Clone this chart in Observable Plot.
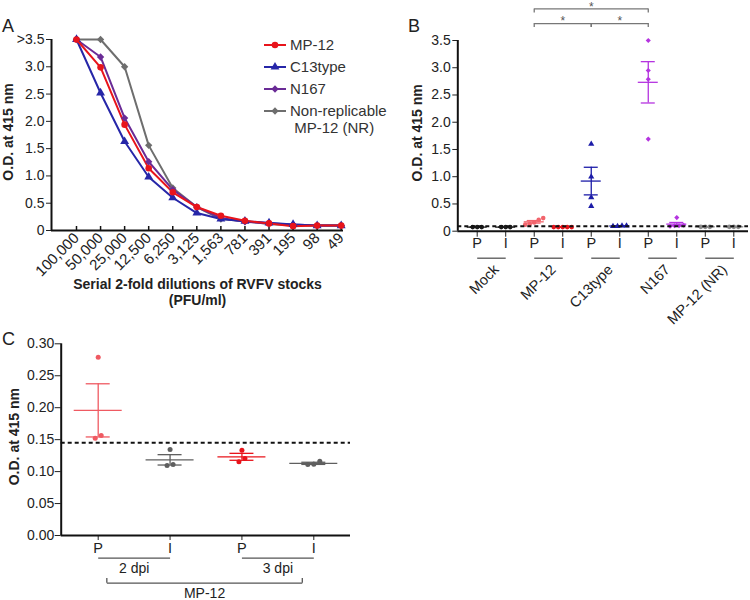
<!DOCTYPE html>
<html><head><meta charset="utf-8">
<script src="https://cdn.jsdelivr.net/npm/d3@7"></script>
<script src="https://cdn.jsdelivr.net/npm/@observablehq/plot@0.6"></script>
<style>
body{margin:0;background:#fff;font-family:"Liberation Sans",Arial,sans-serif;}
#fig{position:relative;width:750px;height:600px;overflow:hidden;background:#fff}
.panel{position:absolute}
.panel svg{max-width:none;overflow:visible}
.letter{position:absolute;font-size:18px;line-height:18px;color:#222}
#legend{position:absolute;left:263px;top:36px;font-size:15px;color:#333}
.lrow{display:flex;align-items:flex-start;margin-bottom:5px}
.lrow svg{margin-top:3px;margin-right:3px;flex:none}
.lrow span{line-height:17px;white-space:pre}
</style></head><body><div id="fig"></div>
<script>
// ---------- Panel A data ----------
const dilutions = ["100,000","50,000","25,000","12,500","6,250","3,125","1,563","781","391","195","98","49"];
const seriesA = ["MP-12","C13type","N167","Non-replicable\n MP-12 (NR)"];
const odMP12 = [3.5,2.99,1.94,1.14,0.70,0.43,0.27,0.18,0.13,0.08,0.09,0.09];
const odC13  = [3.5,2.52,1.63,0.98,0.60,0.32,0.21,0.17,0.14,0.11,0.09,0.09];
const odN167 = [3.5,3.18,2.06,1.26,0.75,0.43,0.23,0.16,0.13,0.11,0.09,0.09];
const odNR   = [3.5,3.5,3.0,1.56,0.78,0.43,0.21,0.17,0.12,0.09,0.09,0.09];
const yTicksA = [0,0.5,1,1.5,2,2.5,3,3.5];

// ---------- Panel B data ----------
const groupsB = ["Mock","MP-12","C13type","N167","MP-12 (NR)"];
const sampleB = ["P","I"];
const mockP = [0.075,0.075,0.075];
const mockI = [0.075,0.075,0.075];
const mp12P = [0.24,0.21,0.16,0.13,0.12];
const mp12I = [0.075,0.075,0.075,0.075,0.075];
const c13P  = [1.60,1.00,0.62,0.46];
const c13I  = [0.10,0.09,0.10,0.09];
const n167P = [3.50,2.95,2.79,1.69];
const n167I = [0.25,0.11,0.10,0.09,0.10];
const nrP   = [0.08,0.08,0.08];
const nrI   = [0.08,0.08,0.08];
const cutoffB = 0.093;
const sigFrom = [2,4,2], sigTo = [4,6,6], sigLevel = [3.81,3.81,4.08], sigText = ["*","*","*"];
const yTicksB = [0,0.5,1,1.5,2,2.5,3,3.5];

// ---------- Panel C data ----------
const sampleC = ["P","I","P","I"];
const dpiLabels = ["2 dpi","3 dpi"];
const virusC = "MP-12";
const c2P = [0.279,0.1565,0.152];
const c2I = [0.1346,0.1096,0.111];
const c3P = [0.1336,0.1205,0.1153];
const c3I = [0.1163,0.1115,0.111];
const cutoffC = 0.145;
const yTicksC = [0,0.05,0.10,0.15,0.20,0.25,0.30];
const yTitle = "O.D. at 415 nm";
const xTitleA = "Serial 2-fold dilutions of RVFV stocks\n(PFU/ml)";

// ---------- styles ----------
const colorsA = ["#e8141b","#2626a8","#6a2b96","#6e6e6e"];
const symbolsA = ["circle","triangle","diamond2","diamond2"];
const colorsB = [["#1a1a1a","#1a1a1a"],["#f2646c","#e8141b"],["#1c1ca8","#1c1ca8"],["#b534e0","#b534e0"],["#8c8c8c","#8c8c8c"]];
const symbolsB = ["circle","circle","triangle","diamond2","circle"];
const colorsC = ["#ef5a62","#5f5f5f","#e8141b","#5f5f5f"];
const FONT = "'Liberation Sans', Arial, sans-serif";
const W = 375;

function lin(p0, p1, i0, i1, left, right) {
  const k = (p1 - p0) / (i1 - i0);
  return {domain: [i0 - (p0 - left) / k, i1 + (right - p1) / k], k};
}
function spread(vals, thr, gap) {
  const order = vals.map((v, i) => i).sort((a, b) => vals[a] - vals[b]);
  const off = new Array(vals.length).fill(0);
  let cl = [order[0]];
  const flush = () => { const n = cl.length; cl.forEach((j, t) => off[j] = (t - (n - 1) / 2) * gap); };
  for (let t = 1; t < order.length; t++) {
    if (vals[order[t]] - vals[order[t - 1]] < thr) cl.push(order[t]);
    else { flush(); cl = [order[t]]; }
  }
  flush();
  return off;
}
const sem = a => a.length > 1 ? (d3.deviation(a) || 0) / Math.sqrt(a.length) : 0;
const fig = d3.select("#fig");
function place(plot, left, top) {
  fig.append("div").attr("class", "panel").style("left", left + "px").style("top", top + "px")
    .style("width", W + "px").node().appendChild(plot);
}
const baseStyle = {fontFamily: FONT, fontSize: "14px", color: "#111", background: "transparent"};
const titleOpts = {text: d => d, frameAnchor: "left", textAnchor: "middle", rotate: -90, dy: -3, fontWeight: "bold", fontSize: 14, fill: "#222"};

// ================= Panel A =================
const A = {left: 51, right: 343, top: 39, bottom: 230, h: 300};
const xa = lin(76, 340.7, 0, 11, A.left, A.right);
const kyA = (A.bottom - A.top) / 3.5;
const valsA = [odMP12, odC13, odN167, odNR];
const rowsA = [3, 2, 1, 0].flatMap(k => valsA[k].map((v, i) => ({s: seriesA[k], i, v})));
const plotA = Plot.plot({
  width: W, height: A.h, marginLeft: A.left, marginRight: W - A.right, marginTop: A.top, marginBottom: A.h - A.bottom,
  x: {type: "linear", domain: xa.domain},
  y: {domain: [0, 3.5]},
  color: {domain: seriesA, range: colorsA},
  symbol: {domain: seriesA, range: symbolsA},
  style: baseStyle,
  marks: [
    Plot.axisY({ticks: yTicksA, tickFormat: d => d === 0 ? "0" : d === 3.5 ? ">3.5" : d.toFixed(1), tickSize: 5, tickPadding: 2, fontSize: 14, label: null, color: "#222"}),
    Plot.axisX({ticks: d3.range(dilutions.length), tickFormat: i => dilutions[i], tickRotate: -45, tickSize: 0, tickPadding: 5, fontSize: 15, label: null, color: "#222"}),
    Plot.ruleX(d3.range(dilutions.length), {x: d => d, y1: () => 0, y2: () => 4 / kyA, strokeWidth: 1.5, stroke: "#111"}),
    Plot.line(rowsA, {x: "i", y: "v", z: "s", stroke: "s", strokeWidth: 2}),
    Plot.dot(rowsA, {x: "i", y: "v", symbol: "s", fill: "s", r: 3.3}),
    Plot.ruleY([0], {strokeWidth: 2, stroke: "#111"}),
    Plot.ruleX([xa.domain[0]], {strokeWidth: 2, stroke: "#111"}),
    Plot.text([yTitle], {...titleOpts, dx: -43}),
    Plot.text([xTitleA], {text: d => d, frameAnchor: "bottom", dy: 61, lineAnchor: "middle", lineHeight: 1.15, fontWeight: "bold", fontSize: 14, fill: "#222"})
  ]
});
place(plotA, 0, 0);

// Legend for A
const symTypes = {circle: d3.symbolCircle, triangle: d3.symbolTriangle, diamond2: d3.symbolDiamond2};
const legend = fig.append("div").attr("id", "legend");
seriesA.forEach((s, k) => {
  const row = legend.append("div").attr("class", "lrow");
  const sv = row.append("svg").attr("width", 24).attr("height", 12);
  sv.append("line").attr("x1", 1).attr("x2", 23).attr("y1", 6).attr("y2", 6).attr("stroke", colorsA[k]).attr("stroke-width", 2);
  sv.append("path").attr("transform", "translate(12,6)").attr("d", d3.symbol(symTypes[symbolsA[k]], 34)()).attr("fill", colorsA[k]);
  row.append("span").text(s);
});

// ================= Panel B =================
const B = {left: 82.3, right: 373, top: 40, bottom: 230.7, h: 330};
const xb = lin(101.7, 358.3, 0, 9, B.left, B.right);
const kyB = (B.bottom - B.top) / 3.5;
const valsB = [[mockP, mockI], [mp12P, mp12I], [c13P, c13I], [n167P, n167I], [nrP, nrI]];
const ptsB = [], statB = [];
valsB.forEach((pair, g) => pair.forEach((vals, s) => {
  const idx = 2 * g + s, key = groupsB[g] + " " + sampleB[s];
  const off = spread(vals, 0.06, 4.5);
  vals.forEach((v, j) => ptsB.push({key, g, x: idx + off[j] / xb.k, v}));
  const m = d3.mean(vals), e = sem(vals);
  statB.push({key, g, idx, m, lo: m - e, hi: m + e});
}));
const keysB = statB.map(d => d.key);
const colB = statB.map(d => colorsB[d.g][d.idx % 2]);
const hwB = 10 / xb.k, cwB = 7 / xb.k;
const plotB = Plot.plot({
  width: W, height: B.h, marginLeft: B.left, marginRight: W - B.right, marginTop: B.top, marginBottom: B.h - B.bottom,
  x: {type: "linear", domain: xb.domain},
  y: {domain: [0, 3.5]},
  color: {domain: keysB, range: colB},
  style: baseStyle,
  marks: [
    Plot.axisY({ticks: yTicksB, tickFormat: d => d === 0 ? "0" : d.toFixed(1), tickSize: 5, tickPadding: 2, fontSize: 14, label: null, color: "#222"}),
    Plot.axisX({ticks: d3.range(10), tickFormat: i => sampleB[i % 2], tickSize: 6, tickPadding: 1, fontSize: 14.5, label: null, color: "#222"}),
    Plot.link(d3.range(groupsB.length), {x1: g => 2 * g, x2: g => 2 * g + 1, y1: () => 0, y2: () => 0, dy: 27, stroke: "#555", strokeWidth: 1.3}),
    Plot.text(groupsB, {text: d => d, x: (d, i) => 2 * i + 0.5, y: () => 0, rotate: -45, textAnchor: "end", dx: 5, dy: 36, fontSize: 14.5, fill: "#222"}),
    // error bars
    Plot.ruleX(statB, {x: "idx", y1: "lo", y2: "hi", stroke: "key", strokeWidth: 1.3}),
    Plot.ruleY(statB, {y: "m", x1: d => d.idx - hwB, x2: d => d.idx + hwB, stroke: "key", strokeWidth: 1.3}),
    Plot.ruleY(statB, {y: "lo", x1: d => d.idx - cwB, x2: d => d.idx + cwB, stroke: "key", strokeWidth: 1.3}),
    Plot.ruleY(statB, {y: "hi", x1: d => d.idx - cwB, x2: d => d.idx + cwB, stroke: "key", strokeWidth: 1.3}),
    Plot.dot(ptsB, {x: "x", y: "v", fill: "key", symbol: d => symbolsB[d.g], r: 2.3}),
    Plot.ruleY([cutoffB], {strokeDasharray: "4,3", strokeWidth: 2, stroke: "#111"}),
    Plot.ruleY([0], {strokeWidth: 2, stroke: "#111"}),
    Plot.ruleX([xb.domain[0]], {strokeWidth: 2, stroke: "#111"}),
    // significance brackets
    Plot.link(d3.range(sigFrom.length), {x1: i => sigFrom[i], x2: i => sigTo[i], y1: i => sigLevel[i], y2: i => sigLevel[i], stroke: "#777", strokeWidth: 1.3}),
    Plot.ruleX(d3.range(sigFrom.length).flatMap(i => [{x: sigFrom[i], y: sigLevel[i]}, {x: sigTo[i], y: sigLevel[i]}]), {x: "x", y1: "y", y2: d => d.y - 4 / kyB, stroke: "#777", strokeWidth: 1.3}),
    Plot.text(d3.range(sigFrom.length), {text: i => sigText[i], x: i => (sigFrom[i] + sigTo[i]) / 2, y: i => sigLevel[i], dy: -2, fontSize: 12, fill: "#555"}),
    Plot.text([yTitle], {...titleOpts, dx: -40})
  ]
});
place(plotB, 375, 0);

// ================= Panel C =================
const C = {left: 60.7, right: 350, top: 43.3, bottom: 235, h: 300};
const xc = lin(97.7, 313.3, 0, 3, C.left, C.right);
const kyC = (C.bottom - C.top) / 0.3;
const valsC = [c2P, c2I, c3P, c3I];
const ptsC = [], statC = [];
valsC.forEach((vals, idx) => {
  const off = spread(vals, 0.006, 6);
  vals.forEach((v, j) => ptsC.push({idx, x: idx + off[j] / xc.k, v}));
  const m = d3.mean(vals), e = sem(vals);
  statC.push({idx, m, lo: m - e, hi: m + e});
});
const hwC = 24 / xc.k, cwC = 12 / xc.k;
const colC = d => colorsC[d.idx];
const plotC = Plot.plot({
  width: W, height: C.h, marginLeft: C.left, marginRight: W - C.right, marginTop: C.top, marginBottom: C.h - C.bottom,
  x: {type: "linear", domain: xc.domain},
  y: {domain: [0, 0.3]},
  style: baseStyle,
  marks: [
    Plot.axisY({ticks: yTicksC, tickFormat: d => d.toFixed(2), tickSize: 6, tickPadding: 1, fontSize: 14, label: null, color: "#222"}),
    Plot.axisX({ticks: d3.range(4), tickFormat: i => sampleC[i], tickSize: 5, tickPadding: 2, fontSize: 14.5, label: null, color: "#222"}),
    Plot.link(d3.range(dpiLabels.length), {x1: g => 2 * g, x2: g => 2 * g + 1, y1: () => 0, y2: () => 0, dy: 22.7, stroke: "#555", strokeWidth: 1.3}),
    Plot.text(dpiLabels, {text: d => d, x: (d, i) => 2 * i + 0.5, y: () => 0, dy: 33, fontSize: 14, fill: "#222"}),
    Plot.link([virusC], {x1: () => 0.12, x2: () => 2.84, y1: () => 0, y2: () => 0, dy: 47.7, stroke: "#555", strokeWidth: 1.3}),
    Plot.ruleX([0.12, 2.84], {x: d => d, y1: () => 0, y2: () => 4.7 / kyC, dy: 47.7, stroke: "#555", strokeWidth: 1.3}),
    Plot.text([virusC], {text: d => d, x: () => (0.12 + 2.84) / 2, y: () => 0, dy: 58.5, fontSize: 14, fill: "#222"}),
    Plot.ruleX(statC, {x: "idx", y1: "lo", y2: "hi", stroke: colC, strokeWidth: 1.3}),
    Plot.ruleY(statC, {y: "m", x1: d => d.idx - hwC, x2: d => d.idx + hwC, stroke: colC, strokeWidth: 1.3}),
    Plot.ruleY(statC, {y: "lo", x1: d => d.idx - cwC, x2: d => d.idx + cwC, stroke: colC, strokeWidth: 1.3}),
    Plot.ruleY(statC, {y: "hi", x1: d => d.idx - cwC, x2: d => d.idx + cwC, stroke: colC, strokeWidth: 1.3}),
    Plot.dot(ptsC, {x: "x", y: "v", fill: colC, r: 2.5}),
    Plot.ruleY([cutoffC], {strokeDasharray: "4,3", strokeWidth: 2, stroke: "#111"}),
    Plot.ruleY([0], {strokeWidth: 2, stroke: "#111"}),
    Plot.ruleX([xc.domain[0]], {strokeWidth: 2, stroke: "#111"}),
    Plot.text([yTitle], {...titleOpts, dx: -46.5})
  ]
});
place(plotC, 0, 300);

// Panel letters
[["A", 2, 17], ["B", 408, 17], ["C", 2, 330]].forEach(([t, l, tp]) =>
  fig.append("div").attr("class", "letter").style("left", l + "px").style("top", tp + "px").text(t));
</script></body></html>
